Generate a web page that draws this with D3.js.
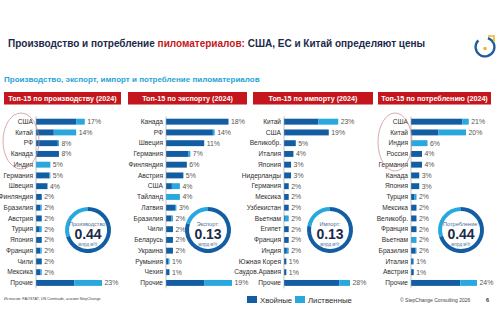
<!DOCTYPE html>
<html>
<head>
<meta charset="utf-8">
<script src="https://cdn.jsdelivr.net/npm/d3@7"></script>
<style>
  body { margin: 0; background: #fff; }
  svg { display: block; }
  text { font-family: "Liberation Sans Narrow", "Liberation Sans", Arial, sans-serif; }
</style>
</head>
<body>
<svg id="chart" width="500" height="333"></svg>
<script>
// Top-15 rankings, 2024, % of world volume (softwood + hardwood)
const prodNames = ['США', 'Китай', 'РФ', 'Канада', 'Индия', 'Германия', 'Швеция', 'Финляндия', 'Бразилия', 'Австрия', 'Турция', 'Япония', 'Франция', 'Чили', 'Мексика', 'Прочие'];
const prodSoft  = [14, 6.2, 7.6, 8, 0, 4.7, 4, 2, 1.6, 2, 1.3, 2, 1.5, 2, 1.6, 13.4];
const prodHard  = [3, 7.8, 0.4, 0, 5, 0.3, 0, 0, 0.4, 0, 0.7, 0, 0.5, 0, 0.4, 9.6];

const expNames = ['Канада', 'РФ', 'Швеция', 'Германия', 'Финляндия', 'Австрия', 'США', 'Тайланд', 'Латвия', 'Бразилия', 'Чили', 'Беларусь', 'Украина', 'Румыния', 'Чехия', 'Прочие'];
const expSoft  = [18, 13.5, 11, 6.5, 6, 5, 1.7, 0, 2.6, 1.6, 2, 2, 2, 0.6, 1, 11.1];
const expHard  = [0, 0.5, 0, 0.5, 0, 0, 2.3, 4, 0.4, 0.4, 0, 0, 0, 0.4, 0, 7.9];

const impNames = ['Китай', 'США', 'Великобр.', 'Италия', 'Япония', 'Нидерланды', 'Германия', 'Мексика', 'Узбекистан', 'Вьетнам', 'Египет', 'Франция', 'Индия', 'Южная Корея', 'Саудов.Аравия', 'Прочие'];
const impSoft  = [14.5, 19, 5, 4, 3, 3, 2, 2, 2, 0.4, 2, 2, 1.2, 1, 1, 23.4];
const impHard  = [8.5, 0, 0, 0, 0, 0, 0, 0, 0, 1.6, 0, 0, 0.8, 0, 0, 4.6];

const consNames = ['США', 'Китай', 'Индия', 'Россия', 'Германия', 'Канада', 'Япония', 'Турция', 'Мексика', 'Великобр.', 'Франция', 'Вьетнам', 'Бразилия', 'Италия', 'Австрия', 'Прочие'];
const consSoft  = [18.7, 10, 0, 4, 4, 3, 3, 1.3, 2, 2, 2, 0, 1.7, 0.7, 1, 17.9];
const consHard  = [2.3, 10, 6, 0, 0, 0, 0, 0.7, 0, 0, 0, 2, 0.3, 0.3, 0, 6.1];

// World totals, bn m3 per year, and softwood share of the ring
const totalLabels = ['Производство:', 'Экспорт:', 'Импорт:', 'Потребление:'];
const totalValues = [0.44, 0.13, 0.13, 0.44];
const softShare   = [0.70, 0.80, 0.78, 0.70];

const panelTitles = ['Топ-15 по производству (2024)', 'Топ-15 по экспорту (2024)', 'Топ-15 по импорту (2024)', 'Топ-15 по потреблению (2024)'];
const legendItems = ['Хвойные', 'Лиственные'];

const C = {
  navy: '#1b2a4a',
  red: '#c4161c',
  dark: '#135ea3',
  light: '#29a8e0',
  cyan: '#29a3d9',
  label: '#2e2e2e',
  value: '#555555',
  axis: '#9a9a9a',
  ellipse: '#c98585'
};

const svg = d3.select('#chart');

// Heading
const title = svg.append('text')
  .attr('x', 8).attr('y', 47)
  .style('font-family', '"Liberation Sans", Arial, sans-serif')
  .style('font-size', '10px')
  .style('font-weight', 'bold')
  .attr('fill', C.navy);
title.append('tspan').text('Производство и потребление ');
title.append('tspan').attr('fill', C.red).text('пиломатериалов:');
title.append('tspan').text(' США, ЕС и Китай определяют цены');

svg.append('text')
  .attr('x', 4).attr('y', 82)
  .style('font-size', '8px')
  .style('font-weight', 'bold')
  .attr('fill', C.cyan)
  .text('Производство, экспорт, импорт и потребление пиломатериалов');

// Logo: open ring with a dot and a corner mark
const logo = svg.append('g').attr('transform', 'translate(485,47)');
logo.append('path')
  .attr('d', d3.arc()({ innerRadius: 8.2, outerRadius: 10.6, startAngle: Math.PI * 0.1, endAngle: Math.PI * 1.75 }))
  .attr('fill', '#1f5d9f');
logo.append('circle').attr('cx', 0).attr('cy', 1.5).attr('r', 1.7).attr('fill', '#f0b323');
logo.append('path')
  .attr('d', 'M3,-11 L9,-11 L9,-5')
  .attr('fill', 'none').attr('stroke', '#f0b323').attr('stroke-width', 1.6);

const panels = [
  { names: prodNames, soft: prodSoft, hard: prodHard, x: 4,   w: 117, axisX: 36 },
  { names: expNames,  soft: expSoft,  hard: expHard,  x: 128, w: 119, axisX: 166 },
  { names: impNames,  soft: impSoft,  hard: impHard,  x: 253, w: 120, axisX: 284 },
  { names: consNames, soft: consSoft, hard: consHard, x: 378, w: 113, axisX: 411 }
];
const donutCenters = [[88, 230], [208, 230], [330, 230], [461, 230]];

const rowTop = 116.3, rowStep = 10.75;

panels.forEach((p, k) => {
  const g = svg.append('g');

  // Red header
  g.append('rect')
    .attr('x', p.x).attr('y', 92)
    .attr('width', p.w).attr('height', 12.5)
    .attr('fill', C.red);
  g.append('text')
    .attr('x', p.x + p.w / 2).attr('y', 101)
    .attr('text-anchor', 'middle')
    .style('font-family', '"Liberation Sans", Arial, sans-serif')
    .style('font-size', '7.2px')
    .style('font-weight', 'bold')
    .attr('fill', '#fff')
    .text(panelTitles[k]);

  const totals = p.names.map((n, i) => p.soft[i] + p.hard[i]);
  const y = d3.scaleBand()
    .domain(p.names)
    .range([rowTop, rowTop + rowStep * p.names.length])
    .paddingInner(0.45)
    .paddingOuter(0.225);
  const x = d3.scaleLinear()
    .domain([0, d3.max(totals)])
    .range([p.axisX, p.axisX + 66]);

  // Country labels
  g.selectAll('text.cat')
    .data(p.names)
    .join('text')
    .attr('class', 'cat')
    .attr('x', p.axisX - 3)
    .attr('y', d => y(d) + y.bandwidth() / 2)
    .attr('dy', '0.35em')
    .attr('text-anchor', 'end')
    .style('font-size', '6.6px')
    .attr('fill', C.label)
    .text(d => d);

  // Softwood segment
  g.selectAll('rect.soft')
    .data(p.names)
    .join('rect')
    .attr('class', 'soft')
    .attr('x', x(0))
    .attr('y', d => y(d))
    .attr('width', (d, i) => x(p.soft[i]) - x(0))
    .attr('height', y.bandwidth())
    .attr('fill', C.dark);

  // Hardwood segment, stacked after softwood
  g.selectAll('rect.hard')
    .data(p.names)
    .join('rect')
    .attr('class', 'hard')
    .attr('x', (d, i) => x(p.soft[i]))
    .attr('y', d => y(d))
    .attr('width', (d, i) => x(totals[i]) - x(p.soft[i]))
    .attr('height', y.bandwidth())
    .attr('fill', C.light);

  // Value labels
  g.selectAll('text.val')
    .data(p.names)
    .join('text')
    .attr('class', 'val')
    .attr('x', (d, i) => x(totals[i]) + 2.5)
    .attr('y', d => y(d) + y.bandwidth() / 2)
    .attr('dy', '0.35em')
    .style('font-size', '6.9px')
    .attr('fill', C.value)
    .text((d, i) => Math.round(totals[i]) + '%');

  // Axis line
  g.append('line')
    .attr('x1', p.axisX).attr('x2', p.axisX)
    .attr('y1', rowTop).attr('y2', rowTop + rowStep * p.names.length)
    .attr('stroke', C.axis).attr('stroke-width', 0.6);

  // Total donut
  const [cx, cy] = donutCenters[k];
  const dg = g.append('g').attr('transform', `translate(${cx},${cy})`);
  dg.append('circle').attr('r', 22).attr('fill', '#fff');
  const pie = d3.pie().sort(null)([softShare[k], 1 - softShare[k]]);
  const arc = d3.arc().innerRadius(19).outerRadius(23);
  dg.selectAll('path')
    .data(pie)
    .join('path')
    .attr('d', arc)
    .attr('fill', (d, i) => i === 0 ? C.dark : C.light);
  dg.append('text')
    .attr('y', -4.5).attr('text-anchor', 'middle')
    .style('font-size', '5.6px')
    .attr('fill', '#4a6f99')
    .text(totalLabels[k]);
  dg.append('text')
    .attr('y', 9).attr('text-anchor', 'middle')
    .style('font-family', '"Liberation Sans", Arial, sans-serif')
    .style('font-size', '14px')
    .style('font-weight', 'bold')
    .attr('fill', C.navy)
    .text(totalValues[k].toFixed(2));
  dg.append('text')
    .attr('y', 15.5).attr('text-anchor', 'middle')
    .style('font-size', '4.5px')
    .attr('fill', '#4a6f99')
    .text('млрд м³/г');
});

// Highlight ellipses around the leading producers and consumers
[[21, 141, 18, 28], [395, 142, 17, 29]].forEach(([cx, cy, rx, ry]) => {
  svg.append('ellipse')
    .attr('cx', cx).attr('cy', cy).attr('rx', rx).attr('ry', ry)
    .attr('fill', 'none').attr('stroke', C.ellipse).attr('stroke-width', 0.7);
});

// Legend
const lg = svg.append('g').attr('transform', 'translate(247,296)');
legendItems.forEach((t, i) => {
  const ox = i === 0 ? 0 : 48;
  lg.append('rect').attr('x', ox).attr('y', 0).attr('width', 10).attr('height', 7)
    .attr('fill', i === 0 ? C.dark : C.light);
  lg.append('text').attr('x', ox + 13).attr('y', 6.5)
    .style('font-size', '7.8px').attr('fill', C.label).text(t);
});

// Footer
svg.append('text')
  .attr('x', 4).attr('y', 300)
  .style('font-size', '3.8px').attr('fill', '#444')
  .text('Источник: FAOSTAT, UN Comtrade, анализ StepChange');
svg.append('text')
  .attr('x', 400).attr('y', 302)
  .style('font-size', '5px').attr('fill', '#444')
  .text('© StepChange Consulting 2026');
svg.append('text')
  .attr('x', 486).attr('y', 302)
  .style('font-size', '5.5px').style('font-weight', 'bold').attr('fill', '#333')
  .text('6');
</script>
</body>
</html>
